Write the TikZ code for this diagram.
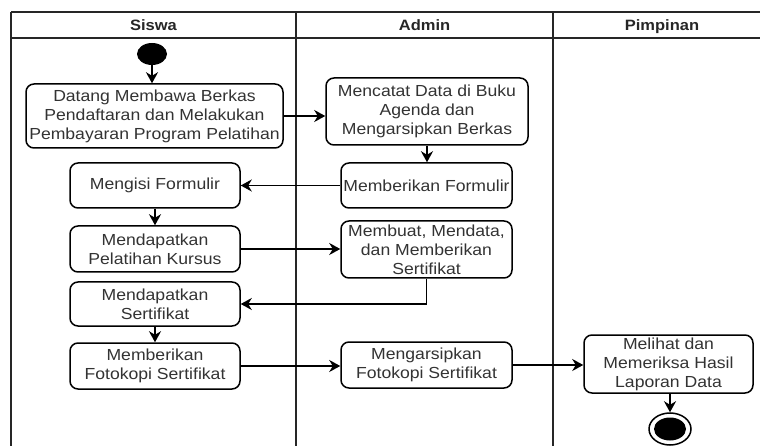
\documentclass[tikz,border=0pt]{standalone}
\usepackage{fontspec}
\setmainfont{Liberation Sans}[FakeStretch=1.1]
\usetikzlibrary{arrows.meta,shapes.geometric}
\begin{document}
\begin{tikzpicture}[x=1pt,y=-1pt,
  act/.style={draw=black, line width=1.5pt, rounded corners=8pt, fill=white,
    align=center, font=\fontsize{16}{19}\selectfont, text=black!80, inner sep=0pt},
  flow/.style={line width=1.6pt, -{Stealth[length=11pt,width=12pt,inset=3.5pt]}},
  lane/.style={line width=2pt, draw=black!85},
  head/.style={font=\fontsize{15}{18}\selectfont\bfseries, text=black!85, anchor=base}]
\useasboundingbox (0,0) rectangle (760,446);

% swimlane frame
\draw[lane] (11,12) -- (760,12);
\draw[lane] (11,38) -- (760,38);
\draw[lane] (11,12) -- (11,446);
\draw[lane] (296,12) -- (296,446);
\draw[lane] (553,12) -- (553,446);
\node[head] (hs) at (153.5,30.5) {Siswa};
\node[head] (ha) at (424.5,30.5) {Admin};
\node[head] (hp) at (662,30.5) {Pimpinan};

% start and end
\node[ellipse, fill=black, minimum width=30pt, minimum height=22pt, inner sep=0pt] (start) at (152,54) {};
\node[ellipse, draw=black, line width=1.5pt, fill=white, minimum width=42pt, minimum height=32pt, inner sep=0pt] (end) at (670,429) {};
\node[ellipse, fill=black, minimum width=32pt, minimum height=23pt, inner sep=0pt] (endcore) at (end.center) {};

% Siswa
\node[act, minimum width=257pt, minimum height=64pt] (b1) at (154.5,116)
  {Datang Membawa Berkas\\Pendaftaran dan Melakukan\\Pembayaran Program Pelatihan};
\node[act, minimum width=170pt, minimum height=45pt] (s2) at (155,185.5) {Mengisi Formulir};
\node[act, minimum width=170pt, minimum height=46pt] (s3) at (155,249) {Mendapatkan\\Pelatihan Kursus};
\node[act, minimum width=170pt, minimum height=44pt] (s4) at (155,304) {Mendapatkan\\Sertifikat};
\node[act, minimum width=170pt, minimum height=46pt] (s5) at (155,366) {Memberikan\\Fotokopi Sertifikat};

% Admin
\node[act, minimum width=202pt, minimum height=67pt] (a1) at (427,111.5)
  {Mencatat Data di Buku\\Agenda dan\\Mengarsipkan Berkas};
\node[act, minimum width=171pt, minimum height=45pt] (a2) at (426.5,185.5) {Memberikan Formulir};
\node[act, minimum width=171pt, minimum height=57pt] (a3) at (426.5,249.5)
  {Membuat, Mendata,\\dan Memberikan\\Sertifikat};
\node[act, minimum width=171pt, minimum height=46pt] (a4) at (426.5,365)
  {Mengarsipkan\\Fotokopi Sertifikat};

% Pimpinan
\node[act, minimum width=169pt, minimum height=58pt] (p1) at (668.5,364)
  {Melihat dan\\Memeriksa Hasil\\Laporan Data};

% flows
\draw[flow] (start.south) -- (start.south |- b1.north);
\draw[flow] (b1.east) -- (b1.east -| a1.west);
\draw[flow] (a1.south) -- (a1.south |- a2.north);
\draw[flow] (a2.west) -- (a2.west -| s2.east);
\draw[flow] (s2.south) -- (s2.south |- s3.north);
\draw[flow] (s3.east) -- (s3.east -| a3.west);
\draw[flow] (a3.south) |- (s4.east);
\draw[flow] (s4.south) -- (s4.south |- s5.north);
\draw[flow] (s5.east) -- (s5.east -| a4.west);
\draw[flow] (a4.east) -- (a4.east -| p1.west);
\draw[flow] (p1.south -| end.north) -- (end.north);
\end{tikzpicture}
\end{document}
